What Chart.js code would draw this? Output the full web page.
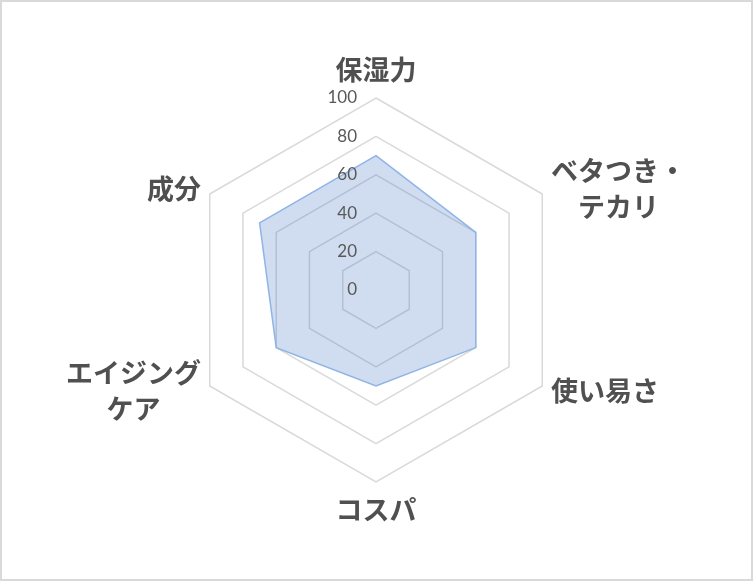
<!DOCTYPE html>
<html lang="ja">
<head>
<meta charset="UTF-8">
<title>レーダーチャート</title>
<script src="https://cdn.jsdelivr.net/npm/chart.js@4.4.1/dist/chart.umd.min.js"></script>
<style>
    html, body { margin: 0; padding: 0; background: #ffffff; }
    #wrap { position: relative; width: 753px; height: 581px; }
    #frame {
        position: absolute; left: 0; top: 0; width: 753px; height: 581px;
        box-sizing: border-box; border: 2px solid #d9d9d9; pointer-events: none;
    }
</style>
</head>
<body>
<div id="wrap">
    <canvas id="radar-chart"></canvas>
    <div id="frame"></div>
</div>
<script>
// 項目名（2行になるものは配列で）
const categories = [
    ['保湿力'],
    ['ベタつき・', 'テカリ'],
    ['使い易さ'],
    ['コスパ'],
    ['エイジング', 'ケア'],
    ['成分']
];
const scores = [70, 60, 60, 50, 60, 70];
const tickValues = [0, 20, 40, 60, 80, 100];

const textColor = '#505050';

// Excel風のラベル配置（横の項目は縦中央、目盛りは軸の左）
const excelLabels = {
    id: 'excelLabels',
    afterDraw(chart) {
        const ctx = chart.ctx;
        const scale = chart.scales.r;
        ctx.save();

        // 目盛りラベル
        ctx.fillStyle = '#595959';
        ctx.font = '17px Lato';
        ctx.textAlign = 'right';
        ctx.textBaseline = 'middle';
        scale.ticks.forEach(tick => {
            const d = scale.getDistanceFromCenterForValue(tick.value);
            ctx.fillText(tick.label, scale.xCenter - 19, scale.yCenter - d);
        });

        // 項目ラベル
        ctx.fillStyle = textColor;
        ctx.font = 'bold 27px "Noto Sans CJK JP"';
        ctx.textAlign = 'center';
        const lineH = 36;
        chart.data.labels.forEach((lines, i) => {
            const p = scale.getPointPosition(i, scale.drawingArea + 10);
            const dx = p.x - scale.xCenter;
            const dy = p.y - scale.yCenter;
            const blockW = Math.max(...lines.map(s => ctx.measureText(s).width));
            const blockH = lines.length * lineH;
            let cx, top;
            if (Math.abs(dx) < 1) {
                cx = p.x;
                top = dy < 0 ? p.y - blockH : p.y;
            } else {
                cx = dx > 0 ? p.x + blockW / 2 : p.x - blockW / 2;
                top = p.y - blockH / 2;
            }
            lines.forEach((s, k) => ctx.fillText(s, cx, top + lineH * k + lineH / 2));
        });
        ctx.restore();
    }
};

new Chart(document.getElementById('radar-chart').getContext('2d'), {
    type: 'radar',
    data: {
        labels: categories,
        datasets: [{
            label: '評価',
            data: scores,
            backgroundColor: 'rgba(68, 114, 196, 0.25)',
            borderColor: '#8fb4e6',
            borderWidth: 1.5,
            pointRadius: 0,
            pointHoverRadius: 0,
            fill: true
        }]
    },
    options: {
        responsive: true,
        maintainAspectRatio: false,
        animation: false,
        layout: {
            padding: { top: 98, bottom: 99, left: 0, right: 0 }
        },
        plugins: {
            legend: { display: false },
            tooltip: { enabled: false }
        },
        scales: {
            r: {
                min: tickValues[0],
                max: tickValues[tickValues.length - 1],
                ticks: {
                    stepSize: tickValues[1] - tickValues[0],
                    display: false
                },
                grid: {
                    circular: false,
                    color: '#d9d9d9',
                    lineWidth: 1.5
                },
                angleLines: { display: false },
                pointLabels: { display: false }
            }
        }
    },
    plugins: [excelLabels]
});
</script>
</body>
</html>
